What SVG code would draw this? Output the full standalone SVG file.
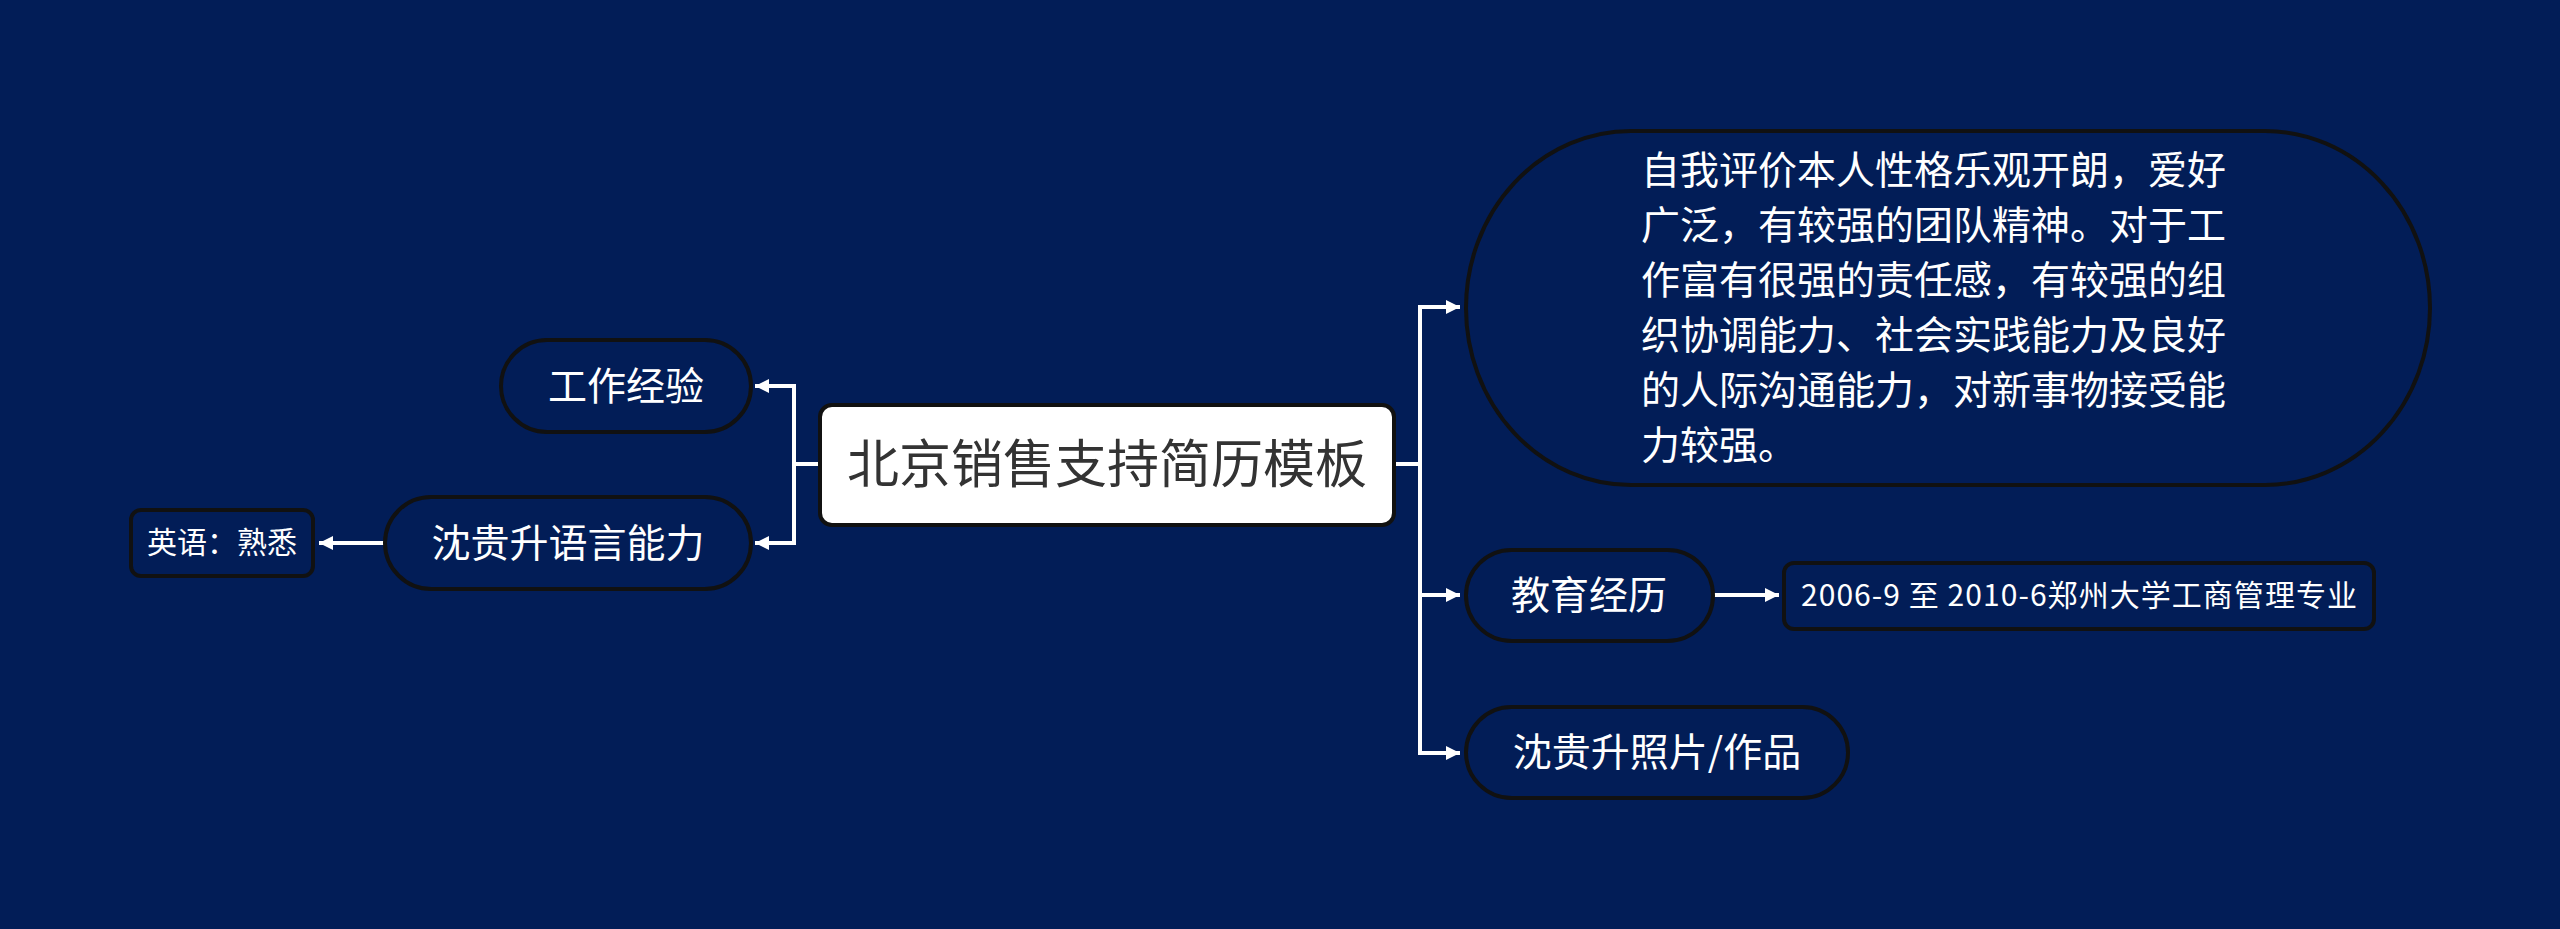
<svg xmlns="http://www.w3.org/2000/svg" width="2560" height="929" viewBox="0 0 2560 929">
<defs>
<marker id="arr" markerUnits="userSpaceOnUse" markerWidth="16" markerHeight="16" refX="14" refY="7" orient="auto">
<path d="M0,0 L14,7 L0,14 z" fill="#ffffff"/>
</marker>
<style>
.node{fill:#021d57;stroke:#111111;stroke-width:4}
.t{font-family:"Noto Sans CJK SC","Noto Sans",sans-serif;fill:#ffffff;text-anchor:middle}
.c{fill:none;stroke:#ffffff;stroke-width:4}
.ca{fill:none;stroke:#ffffff;stroke-width:4;marker-end:url(#arr)}
</style>
</defs>
<rect width="2560" height="929" fill="#021d57"/>
<g id="connectors">
<path class="ca" d="M1394 464 H1420 V307 H1460"/>
<path class="ca" d="M1394 464 H1420 V595 H1460"/>
<path class="ca" d="M1394 464 H1420 V753 H1460"/>
<path class="ca" d="M820 464 H794 V386 H755"/>
<path class="ca" d="M820 464 H794 V543 H755"/>
<path class="ca" d="M384 543 H319"/>
<path class="ca" d="M1713 595 H1779"/>
</g>
<g id="root">
<rect x="820" y="405" width="574" height="120" rx="12" fill="#ffffff" stroke="#111111" stroke-width="4"/>
<text class="t" x="1107" y="483" font-size="52" style="fill:#333333">北京销售支持简历模板</text>
</g>
<g id="self-eval">
<rect class="node" x="1466" y="131" width="964" height="354" rx="165" ry="177"/>
<text class="t" font-size="39" style="text-anchor:start">
<tspan x="1641" y="184">自我评价本人性格乐观开朗，爱好</tspan>
<tspan x="1641" y="239">广泛，有较强的团队精神。对于工</tspan>
<tspan x="1641" y="294">作富有很强的责任感，有较强的组</tspan>
<tspan x="1641" y="349">织协调能力、社会实践能力及良好</tspan>
<tspan x="1641" y="404">的人际沟通能力，对新事物接受能</tspan>
<tspan x="1641" y="459">力较强。</tspan>
</text>
</g>
<g id="education">
<rect class="node" x="1466" y="550" width="247" height="91" rx="45.5"/>
<text class="t" x="1589" y="609" font-size="39">教育经历</text>
</g>
<g id="education-detail">
<rect class="node" x="1784" y="563" width="590" height="66" rx="10"/>
<text class="t" x="2079" y="606" font-size="30" textLength="556" lengthAdjust="spacing">2006-9 至 2010-6郑州大学工商管理专业</text>
</g>
<g id="photos">
<rect class="node" x="1466" y="707" width="382" height="91" rx="45.5"/>
<text class="t" x="1657" y="766" font-size="39">沈贵升照片/作品</text>
</g>
<g id="work">
<rect class="node" x="501" y="340" width="250" height="92" rx="46"/>
<text class="t" x="626" y="400" font-size="39">工作经验</text>
</g>
<g id="language">
<rect class="node" x="385" y="497" width="366" height="92" rx="46"/>
<text class="t" x="568" y="557" font-size="39">沈贵升语言能力</text>
</g>
<g id="english">
<rect class="node" x="131" y="510" width="182" height="66" rx="10"/>
<text class="t" x="222" y="553" font-size="30">英语：熟悉</text>
</g>
</svg>
